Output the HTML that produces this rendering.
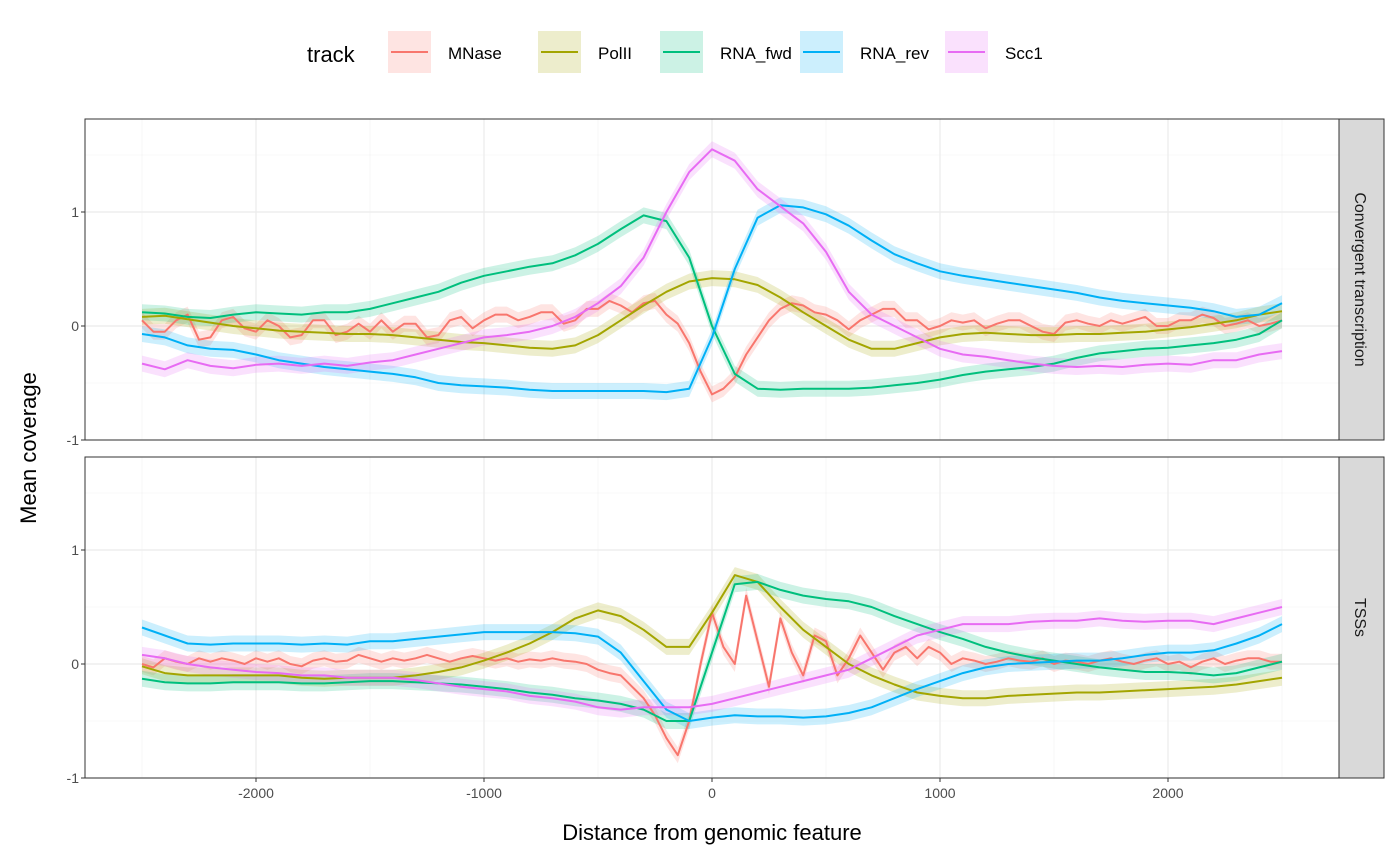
<!DOCTYPE html>
<html><head><meta charset="utf-8"><style>
body{margin:0;background:#fff;}
svg{display:block;font-family:"Liberation Sans",Arial,sans-serif;}
</style></head><body>
<svg id="c" width="1400" height="865"></svg>
<script>
const xTicks=[-2000,-1000,0,1000,2000];
const yTicks=[-1,0,1];
const xs=[];for(let v=-2500;v<=2500;v+=100)xs.push(v);
const xsM=[];for(let v=-2500;v<=2500;v+=50)xsM.push(v);
const tracks=["MNase","PolII","RNA_fwd","RNA_rev","Scc1"];
const colors=["#F8766D","#A3A500","#00BF7D","#00B0F6","#E76BF3"];
const facets=["Convergent transcription","TSSs"];
// Panel 1: Convergent transcription
const conv_PolII=[0.08,0.09,0.06,0.03,0,-0.02,-0.04,-0.05,-0.06,-0.07,-0.07,-0.08,-0.1,-0.12,-0.14,-0.15,-0.17,-0.19,-0.2,-0.17,-0.08,0.05,0.18,0.3,0.39,0.42,0.41,0.36,0.25,0.12,0,-0.12,-0.2,-0.2,-0.15,-0.1,-0.07,-0.06,-0.07,-0.08,-0.08,-0.07,-0.07,-0.06,-0.05,-0.03,-0.01,0.02,0.05,0.1,0.13];
const conv_RNA_fwd=[0.12,0.11,0.08,0.07,0.1,0.12,0.11,0.1,0.12,0.12,0.15,0.2,0.25,0.3,0.38,0.44,0.48,0.52,0.55,0.62,0.72,0.85,0.97,0.92,0.6,0,-0.42,-0.55,-0.56,-0.55,-0.55,-0.55,-0.54,-0.52,-0.5,-0.47,-0.43,-0.4,-0.38,-0.36,-0.33,-0.28,-0.24,-0.22,-0.2,-0.19,-0.17,-0.15,-0.12,-0.07,0.05];
const conv_RNA_rev=[-0.07,-0.1,-0.17,-0.2,-0.21,-0.25,-0.3,-0.33,-0.36,-0.38,-0.4,-0.42,-0.45,-0.5,-0.52,-0.53,-0.54,-0.56,-0.57,-0.57,-0.57,-0.57,-0.57,-0.58,-0.55,-0.1,0.5,0.95,1.06,1.04,0.98,0.88,0.75,0.63,0.55,0.48,0.44,0.41,0.38,0.35,0.32,0.29,0.25,0.22,0.2,0.18,0.16,0.13,0.08,0.1,0.2];
const conv_Scc1=[-0.33,-0.38,-0.3,-0.35,-0.37,-0.34,-0.33,-0.35,-0.33,-0.35,-0.32,-0.3,-0.25,-0.2,-0.15,-0.1,-0.08,-0.05,0,0.08,0.2,0.35,0.6,1.0,1.35,1.55,1.45,1.2,1.05,0.9,0.65,0.3,0.1,0,-0.1,-0.2,-0.25,-0.27,-0.3,-0.33,-0.35,-0.36,-0.35,-0.36,-0.34,-0.33,-0.34,-0.3,-0.3,-0.25,-0.22];
const conv_MNase=[0.05,-0.05,-0.05,0.05,0.1,-0.12,-0.1,0.05,0.08,-0.02,-0.05,0.05,0,-0.1,-0.08,0.05,0.05,-0.08,-0.05,0.02,-0.05,0.05,-0.05,0.02,0.02,-0.1,-0.08,0.05,0.08,-0.02,0.05,0.1,0.1,0.05,0.08,0.12,0.12,0.02,0.05,0.15,0.15,0.22,0.18,0.12,0.2,0.22,0.1,0.02,-0.15,-0.4,-0.6,-0.55,-0.45,-0.25,-0.1,0.05,0.15,0.2,0.18,0.12,0.1,0.05,-0.03,0.05,0.1,0.15,0.15,0.05,0.05,-0.03,0,0.05,0.03,0.05,-0.02,0.02,0.05,0.05,0,-0.05,-0.07,0.03,0.05,0.02,0,0.05,0.02,0.05,0.08,0,0,0.05,0.05,0.1,0.07,0,0.02,0.05,0,0.02,0.05];
// Panel 2: TSSs
const tss_PolII=[-0.02,-0.08,-0.1,-0.1,-0.1,-0.1,-0.1,-0.12,-0.13,-0.12,-0.12,-0.12,-0.1,-0.07,-0.03,0.03,0.1,0.18,0.28,0.4,0.47,0.42,0.3,0.15,0.15,0.45,0.78,0.72,0.5,0.3,0.15,0,-0.1,-0.18,-0.25,-0.28,-0.3,-0.3,-0.28,-0.27,-0.26,-0.25,-0.25,-0.24,-0.23,-0.22,-0.21,-0.2,-0.18,-0.15,-0.12];
const tss_RNA_fwd=[-0.13,-0.16,-0.17,-0.17,-0.16,-0.16,-0.16,-0.17,-0.17,-0.16,-0.15,-0.15,-0.16,-0.17,-0.18,-0.2,-0.22,-0.25,-0.27,-0.3,-0.32,-0.35,-0.4,-0.5,-0.5,0.1,0.7,0.72,0.65,0.6,0.57,0.55,0.5,0.42,0.35,0.28,0.22,0.15,0.1,0.06,0.03,0,-0.03,-0.05,-0.07,-0.07,-0.08,-0.1,-0.08,-0.03,0.02];
const tss_RNA_rev=[0.32,0.25,0.18,0.17,0.18,0.18,0.18,0.17,0.18,0.17,0.2,0.2,0.22,0.24,0.26,0.28,0.28,0.28,0.28,0.27,0.24,0.1,-0.15,-0.4,-0.5,-0.47,-0.45,-0.46,-0.46,-0.47,-0.46,-0.43,-0.38,-0.3,-0.22,-0.15,-0.08,-0.03,0,0.01,0.02,0.03,0.03,0.05,0.08,0.1,0.1,0.12,0.18,0.25,0.35];
const tss_Scc1=[0.08,0.05,0,-0.03,-0.05,-0.07,-0.08,-0.1,-0.1,-0.12,-0.12,-0.12,-0.14,-0.17,-0.2,-0.22,-0.24,-0.28,-0.3,-0.33,-0.38,-0.4,-0.38,-0.38,-0.38,-0.35,-0.3,-0.25,-0.2,-0.15,-0.1,-0.05,0.05,0.15,0.25,0.3,0.35,0.35,0.35,0.37,0.38,0.38,0.4,0.38,0.37,0.38,0.38,0.35,0.4,0.45,0.5];
const tss_MNase=[0,-0.03,0.05,0.02,0,0.05,0.02,0.05,0.03,0,
0.05,0.02,0.05,0,-0.02,0.03,0.05,0.02,0.03,0.08,
0.05,0.02,0.05,0.03,0.05,0.08,0.05,0.02,0.05,0.07,
0.05,0.03,0.05,0.02,0.04,0.03,0.05,0.03,
0.02,0,-0.05,-0.08,-0.1,-0.2,-0.3,-0.45,-0.65,-0.8,-0.5,0,0.45,0.15,0,0.6,0.2,-0.2,0.4,0.1,-0.1,0.25,0.2,-0.1,0.05,0.25,0.1,-0.05,0.1,0.15,0.05,0.15,0.1,
0,0.05,0.03,0,0.02,0.05,0.03,0.02,0.05,0,0.03,0.02,0,0.03,0.05,0.02,0,0.03,0.05,0,0.02,-0.03,0.02,0.05,0,0.03,0.05,0.05,0.02,0.02];
const panelData=[
 [conv_MNase,conv_PolII,conv_RNA_fwd,conv_RNA_rev,conv_Scc1],
 [tss_MNase,tss_PolII,tss_RNA_fwd,tss_RNA_rev,tss_Scc1]];

const svg=document.getElementById('c');const NS='http://www.w3.org/2000/svg';
function mk(t,a,p){const e=document.createElementNS(NS,t);for(const k in a)e.setAttribute(k,a[k]);(p||svg).appendChild(e);return e;}
const PX0=85,PX1=1339;
const xS=v=>712+v*0.228;
const panels=[{top:119,bot:440,zero:326},{top:457,bot:778,zero:664}];
const rib=0.07;
panels.forEach((p,pi)=>{
 const yS=v=>p.zero-v*114;
 const g=mk('g',{});
 
 
 mk('rect',{x:PX0,y:p.top,width:PX1-PX0,height:p.bot-p.top,fill:'#fff'},g);
 [-2500,-1500,-500,500,1500,2500].forEach(v=>mk('line',{x1:xS(v),x2:xS(v),y1:p.top,y2:p.bot,stroke:'#f2f2f2','stroke-width':0.6},g));
 [-0.5,0.5,1.5].forEach(v=>mk('line',{x1:PX0,x2:PX1,y1:yS(v),y2:yS(v),stroke:'#f2f2f2','stroke-width':0.6},g));
 xTicks.forEach(v=>mk('line',{x1:xS(v),x2:xS(v),y1:p.top,y2:p.bot,stroke:'#ebebeb','stroke-width':1.2},g));
 yTicks.forEach(v=>{mk('line',{x1:PX0,x2:PX1,y1:yS(v),y2:yS(v),stroke:'#ebebeb','stroke-width':1.2},g);
   const t=mk('text',{x:PX0-6,y:yS(v)+5,'text-anchor':'end','font-size':14,fill:'#4d4d4d'},g);t.textContent=v;
   
   mk('line',{x1:PX0-4,x2:PX0,y1:yS(v),y2:yS(v),stroke:'#333'},g);});
 panelData[pi].forEach((arr,ti)=>{
  const xv=arr.length===xsM.length?xsM:xs;
  let up='',dn='';
  arr.forEach((v,i)=>{up+=(i?'L':'M')+xS(xv[i]).toFixed(1)+','+yS(v+rib).toFixed(1);});
  for(let i=arr.length-1;i>=0;i--)dn+='L'+xS(xv[i]).toFixed(1)+','+yS(arr[i]-rib).toFixed(1);
  const r=mk('path',{d:up+dn+'Z',fill:colors[ti],'fill-opacity':0.2,stroke:'none'},g);
  
 });
 panelData[pi].forEach((arr,ti)=>{
  const xv=arr.length===xsM.length?xsM:xs;
  let d='';arr.forEach((v,i)=>{d+=(i?'L':'M')+xS(xv[i]).toFixed(1)+','+yS(v).toFixed(1);});
  const l=mk('path',{d:d,fill:'none',stroke:colors[ti],'stroke-width':2,'stroke-linejoin':'round'},g);
  
 });
 mk('rect',{x:PX0,y:p.top,width:PX1-PX0,height:p.bot-p.top,fill:'none',stroke:'#333','stroke-width':1},g);
 const s=mk('rect',{x:PX1,y:p.top,width:45,height:p.bot-p.top,fill:'#d9d9d9',stroke:'#333','stroke-width':1},g);
 
 const st=mk('text',{x:PX1+22,y:(p.top+p.bot)/2,'text-anchor':'middle','font-size':16,fill:'#1a1a1a',transform:`rotate(90 ${PX1+22} ${(p.top+p.bot)/2})`,dy:6},g);
 st.textContent=facets[pi];
});
xTicks.forEach(v=>{mk('line',{x1:xS(v),x2:xS(v),y1:778,y2:782,stroke:'#333'});
 const t=mk('text',{x:xS(v),y:798,'text-anchor':'middle','font-size':14,fill:'#4d4d4d'});t.textContent=v;
 });
const xt=mk('text',{x:712,y:840,'text-anchor':'middle','font-size':22,fill:'#000'});xt.textContent='Distance from genomic feature';

const yt=mk('text',{x:36,y:448,'text-anchor':'middle','font-size':22,fill:'#000',transform:'rotate(-90 36 448)'});yt.textContent='Mean coverage';

const lt=mk('text',{x:307,y:62,'font-size':22,fill:'#000'});lt.textContent='track';

const keyX=[388,538,660,800,945];
tracks.forEach((t,i)=>{
 const g=mk('g',{});
 
 mk('rect',{x:keyX[i],y:31,width:43,height:42,fill:colors[i],'fill-opacity':0.2},g);
 mk('line',{x1:keyX[i]+3,x2:keyX[i]+40,y1:52,y2:52,stroke:colors[i],'stroke-width':2},g);
 const tx=mk('text',{x:keyX[i]+60,y:59,'font-size':17,fill:'#000'},g);tx.textContent=t;
});
</script>
</body></html>
